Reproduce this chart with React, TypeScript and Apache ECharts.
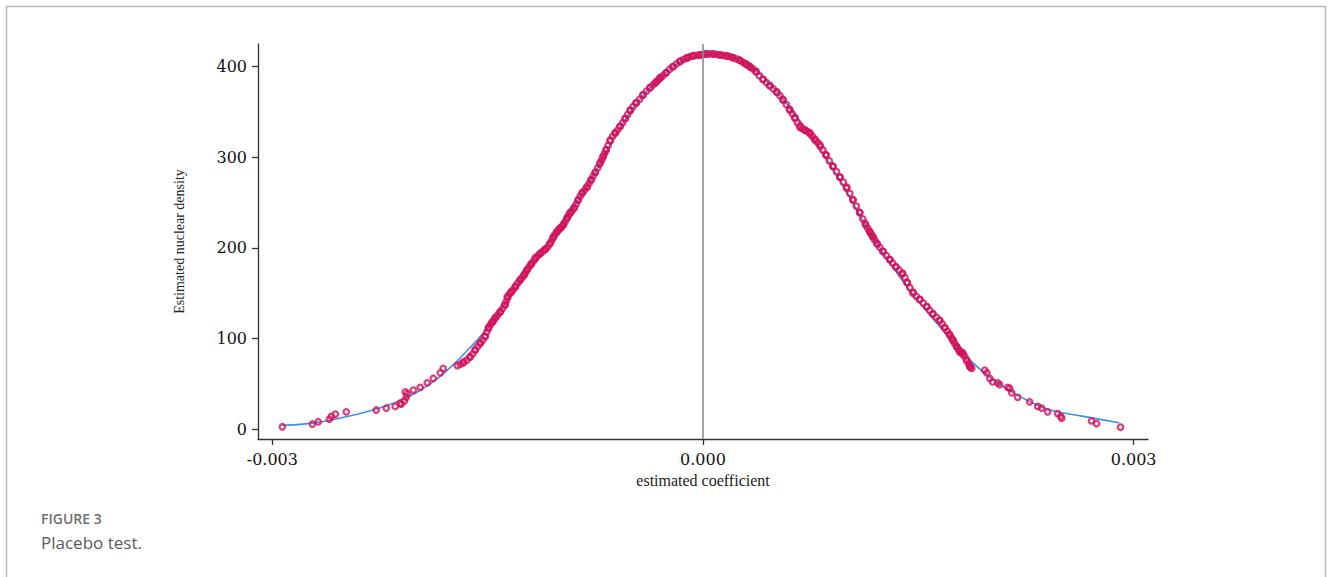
import React, { useEffect, useRef } from "react";
import * as echarts from "echarts";

const xTicks = [-0.003, 0, 0.003];
const yTicks = [0, 100, 200, 300, 400];

// Kernel density curve (blue)
const densityX = [
  -0.00293, -0.00272, -0.00253, -0.0023, -0.00209, -0.0019, -0.00176, -0.00164,
  -0.00153, -0.00141, -0.00127, -0.00113, -0.001, -0.00086, -0.00072, -0.00058,
  -0.00044, -0.0003, -0.00016, -0.00002, 0.00008, 0.00019, 0.00033, 0.00047,
  0.00061, 0.00074, 0.00088, 0.00102, 0.00116, 0.0013, 0.00144, 0.00158,
  0.00172, 0.00186, 0.002, 0.00214, 0.00228, 0.00242, 0.00265, 0.0029,
];
const densityY = [
  4, 6.5, 12, 21, 33, 50, 68, 87,
  106, 131, 162, 194, 224, 255, 292, 332,
  364, 387, 405, 412, 414, 411, 400, 380,
  353, 326, 293, 256, 218, 184, 153, 126,
  100, 76, 57, 42, 30, 21, 14, 7,
];

// Estimated coefficients with their density (red circles)
const coefX = [
  -0.00293, -0.002721, -0.00268, -0.002603, -0.002589, -0.002561, -0.002485, -0.002276,
  -0.002206, -0.002144, -0.002109, -0.002102, -0.002081, -0.002074, -0.002067, -0.00206,
  -0.002018, -0.00197, -0.001921, -0.001879, -0.00183, -0.00181, -0.001712, -0.00167,
  -0.001622, -0.001587, -0.001552, -0.001517, -0.001496, -0.001469, -0.001448, -0.001413,
  -0.001378, -0.001364, -0.001336, -0.001308, -0.001274, -0.001246, -0.001225, -0.001197,
  -0.001169, -0.001134, -0.0011, -0.001065, -0.001044, -0.001016, -0.000995, -0.000974,
  -0.000947, -0.000926, -0.000898, -0.00087, -0.000842, -0.000807, -0.00078, -0.000752,
  -0.000717, -0.000696, -0.000675, -0.000647, -0.000612, -0.000578, -0.000543, -0.000508,
  -0.000466, -0.000418, -0.000369, -0.000327, -0.000299, -0.000258, -0.000209, -0.00016,
  -0.000111, -0.00007, -0.000021, 0.000021, 0.00007, 0.000118, 0.000167, 0.000209,
  0.000258, 0.000299, 0.000327, 0.000369, 0.000418, 0.000466, 0.000515, 0.000557,
  0.000606, 0.00064, 0.000675, 0.00071, 0.000745, 0.00078, 0.000814, 0.000856,
  0.000905, 0.000954, 0.001002, 0.001044, 0.001093, 0.001134, 0.001162, 0.001183,
  0.001211, 0.001253, 0.001302, 0.001343, 0.001392, 0.00142, 0.001462, 0.00151,
  0.001559, 0.001601, 0.00165, 0.001684, 0.001719, 0.00174, 0.001768, 0.001789,
  0.00181, 0.001837, 0.001858, 0.001872, 0.001963, 0.001977, 0.001998, 0.002018,
  0.002053, 0.002067, 0.002123, 0.002137, 0.002151, 0.002192, 0.002276, 0.002332,
  0.002359, 0.002401, 0.002471, 0.002492, 0.002499, 0.002707, 0.002742, 0.002909,
];
const coefY = [
  2.5, 5.5, 8, 11, 14, 16.5, 19, 21,
  23, 25, 28.7, 27.6, 31, 41, 35, 39,
  43, 46, 51, 56, 62, 67, 70, 73,
  80, 87, 95, 102, 112, 118, 123, 129,
  137, 146, 151, 157, 165, 170, 176, 182,
  189, 194, 198, 205, 212, 218, 222, 225,
  233, 239, 244, 253, 261, 267, 275, 283,
  294, 301, 308, 319, 327, 334, 343, 352,
  360, 369, 377, 383, 388, 393, 400, 406,
  410, 412, 413, 414, 414, 413, 412, 410,
  407, 403, 400, 395, 386, 379, 372, 364,
  352, 344, 333, 330, 327, 319, 314, 303,
  290, 278, 267, 253, 239, 225, 218, 212,
  205, 196, 187, 179, 172, 162, 150, 143,
  135, 127, 120, 112, 104, 98, 91, 85,
  84, 76, 69, 67, 65, 62, 56, 52,
  51, 49, 46, 45, 40, 35, 30, 25,
  23, 19, 17, 14, 12, 9, 6, 2,
];

// Further estimated coefficients read along the dense central band: [coefficient, density]
const coefDense = [
  [-0.001691, 71.5], [-0.001646, 76], [-0.001604, 83], [-0.00157, 91],
  [-0.001535, 98], [-0.001506, 107], [-0.001482, 115], [-0.001458, 120],
  [-0.00143, 126], [-0.001396, 133], [-0.001371, 141], [-0.00135, 149],
  [-0.001322, 154], [-0.001291, 161], [-0.00126, 167], [-0.001236, 173],
  [-0.001211, 179], [-0.001183, 185], [-0.001152, 191], [-0.001117, 196],
  [-0.001082, 201], [-0.001054, 208], [-0.00103, 215], [-0.001006, 220],
  [-0.000985, 223], [-0.00096, 229], [-0.000936, 236], [-0.000912, 241],
  [-0.000884, 248], [-0.000856, 257], [-0.000824, 264], [-0.000794, 271],
  [-0.000766, 279], [-0.000734, 288], [-0.000706, 297], [-0.000686, 304],
  [-0.000661, 313], [-0.00063, 323], [-0.000595, 330], [-0.00056, 338],
  [-0.000525, 347], [-0.000487, 356], [-0.000442, 364], [-0.000393, 373],
  [-0.000348, 380], [-0.000313, 385], [-0.000278, 390], [-0.000233, 397],
  [-0.000185, 403], [-0.000135, 408], [-0.00009, 411], [-0.000045, 412.5],
  [0.0, 413.5], [0.000045, 414], [0.000094, 413.5], [0.000142, 412.5],
  [0.000188, 411], [0.000233, 408.5], [0.000278, 405], [0.000313, 401.5],
  [0.000348, 397.5], [0.000393, 390], [0.000442, 382.5], [0.00049, 375.5],
  [0.000536, 368], [0.000581, 358], [0.000623, 348], [0.000658, 338],
  [0.000692, 331.5], [0.000727, 328.5], [0.000762, 323], [0.000797, 316.5],
  [0.000835, 308], [0.00088, 296], [0.00093, 284], [0.000978, 272.5],
  [0.001023, 260], [0.001068, 246], [0.001113, 232], [0.001148, 221.5],
  [0.001172, 215], [0.001197, 208.5], [0.001232, 200.5], [0.001277, 191.5],
  [0.001322, 183], [0.001367, 175.5], [0.001406, 167], [0.001441, 156],
  [0.001486, 146.5], [0.001535, 139], [0.00158, 131], [0.001625, 123.5],
  [0.001667, 116], [0.001702, 108], [0.00173, 101], [0.001754, 94.5],
  [0.001779, 88], [0.0018, 84.5], [0.001824, 80], [0.001848, 72.5],
  [0.001865, 68],
];

// More estimated coefficients from the same dense band: [coefficient, density]
const coefDense2 = [
  [-0.001668, 74], [-0.001625, 79], [-0.001587, 87.5], [-0.001552, 94.5],
  [-0.00152, 102.5], [-0.001494, 111], [-0.00147, 117.5], [-0.001444, 123],
  [-0.001413, 129.5], [-0.001383, 137], [-0.00136, 145], [-0.001336, 151.5],
  [-0.001306, 157.5], [-0.001275, 164], [-0.001248, 170], [-0.001224, 176],
  [-0.001197, 182], [-0.001167, 188], [-0.001134, 193.5], [-0.0011, 198.5],
  [-0.001068, 204.5], [-0.001042, 211.5], [-0.001018, 217.5], [-0.000995, 221.5],
  [-0.000972, 226], [-0.000948, 232.5], [-0.000924, 238.5], [-0.000898, 244.5],
  [-0.00087, 252.5], [-0.00084, 260.5], [-0.000809, 267.5], [-0.00078, 275],
  [-0.00075, 283.5], [-0.00072, 292.5], [-0.000696, 300.5], [-0.000674, 308.5],
  [-0.000646, 318], [-0.000612, 326.5], [-0.000578, 334], [-0.000542, 342.5],
  [-0.000506, 351.5], [-0.000465, 360], [-0.000418, 368.5], [-0.00037, 376.5],
  [-0.00033, 382.5], [-0.000296, 387.5], [-0.000256, 393.5], [-0.000209, 400],
  [-0.00016, 405.5], [-0.000112, 409.5], [-0.000068, 412], [-0.000022, 413],
  [0.000022, 414], [0.00007, 414], [0.000118, 413], [0.000165, 411.5],
  [0.00021, 410], [0.000256, 407], [0.000296, 403], [0.00033, 399.5],
  [0.00037, 394], [0.000418, 386], [0.000466, 379], [0.000513, 372],
  [0.000558, 363], [0.000602, 353], [0.00064, 343], [0.000675, 335],
  [0.00071, 330], [0.000745, 326], [0.00078, 320], [0.000816, 312],
  [0.000858, 302], [0.000905, 290], [0.000954, 278], [0.001, 266],
  [0.001046, 253], [0.00109, 239], [0.00113, 227], [0.00116, 218],
  [0.001185, 212], [0.001214, 204.5], [0.001255, 196], [0.0013, 187],
  [0.001344, 179], [0.001386, 171], [0.001424, 161.5], [0.001464, 151],
  [0.00151, 143], [0.001558, 135], [0.001602, 127], [0.001646, 120],
  [0.001684, 112], [0.001716, 104.5], [0.001742, 98], [0.001766, 91],
  [0.00179, 86], [0.001812, 82], [0.001836, 76], [0.001857, 70],
];

export default function App() {
  const ref = useRef<HTMLDivElement>(null);

  useEffect(() => {
    const chart = echarts.init(ref.current!, null, { renderer: "svg" });
    const serif = "DejaVu Serif";
    const red = "#d2125a";
    const scatterData = coefX
      .map((x, i) => [x, coefY[i]])
      .concat(coefDense)
      .concat(coefDense2);
    chart.setOption({
      animation: false,
      backgroundColor: "#ffffff",
      grid: { left: 258, right: 182, top: 44, bottom: 138, containLabel: false },
      xAxis: {
        type: "value",
        min: -0.0031,
        max: 0.0031,
        name: "estimated coefficient",
        nameLocation: "middle",
        nameGap: 33,
        nameTextStyle: { fontFamily: "Liberation Serif", fontSize: 16, color: "#222" },
        axisLine: { show: true, onZero: false, lineStyle: { color: "#333", width: 1.3 } },
        axisTick: { show: true, customValues: xTicks, length: 6, lineStyle: { color: "#333", width: 1.3 } },
        axisLabel: {
          customValues: xTicks,
          formatter: (v: number) => v.toFixed(3),
          fontFamily: serif,
          fontSize: 16,
          color: "#111",
          margin: 12,
        },
        splitLine: { show: false },
      },
      yAxis: {
        type: "value",
        min: -11,
        max: 425,
        name: "Estimated nuclear density",
        nameLocation: "middle",
        nameGap: 72,
        nameTextStyle: { fontFamily: "Liberation Serif", fontSize: 14, color: "#222" },
        axisLine: { show: true, onZero: false, lineStyle: { color: "#333", width: 1.3 } },
        axisTick: { show: true, customValues: yTicks, length: 6, lineStyle: { color: "#333", width: 1.3 } },
        axisLabel: {
          customValues: yTicks,
          fontFamily: serif,
          fontSize: 16,
          color: "#111",
          margin: 11,
        },
        splitLine: { show: false },
      },
      series: [
        {
          type: "line",
          data: densityX.map((x, i) => [x, densityY[i]]),
          showSymbol: false,
          smooth: true,
          lineStyle: { color: "#3f8ff0", width: 1.6 },
          itemStyle: { color: "#3f8ff0" },
          z: 2,
          markLine: {
            silent: true,
            symbol: "none",
            label: { show: false },
            lineStyle: { color: "#8c8c8c", width: 1.6, type: "solid" },
            data: [{ xAxis: 0 }],
          },
        },
        {
          type: "scatter",
          data: scatterData,
          symbol: "circle",
          symbolSize: 5.5,
          itemStyle: { color: "rgba(255,255,255,0)", borderColor: red, borderWidth: 2.3 },
          z: 3,
        },
      ],
      graphic: [
        {
          type: "rect",
          shape: { x: 6.5, y: 6.5, width: 1319, height: 640 },
          style: { fill: "none", stroke: "#b8b8b8", lineWidth: 1.5 },
          silent: true,
        },
        {
          type: "text",
          x: 41,
          y: 518,
          style: {
            text: "FIGURE 3",
            fontFamily: "Open Sans",
            fontSize: 14,
            fontWeight: 600,
            fill: "#6e6e6e",
            verticalAlign: "middle",
          },
        },
        {
          type: "text",
          x: 41,
          y: 542,
          style: {
            text: "Placebo test.",
            fontFamily: "Open Sans",
            fontSize: 17,
            fill: "#5a5a5a",
            verticalAlign: "middle",
          },
        },
      ],
    });
    return () => chart.dispose();
  }, []);

  return (
    <div style={{ position: "absolute", left: 0, top: 0, width: 1330, height: 577, background: "#fff" }}>
      <div ref={ref} style={{ width: 1330, height: 577 }} />
    </div>
  );
}
